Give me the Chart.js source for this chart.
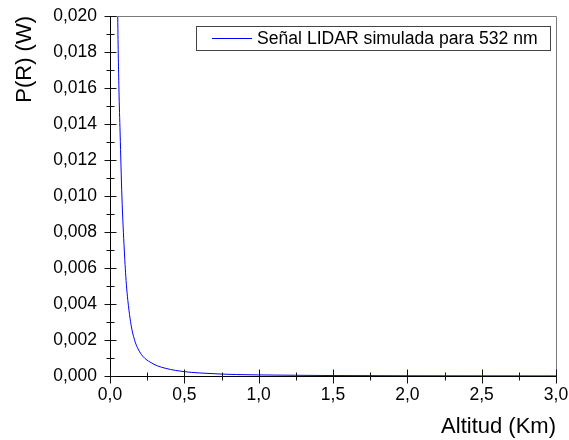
<!DOCTYPE html>
<html>
<head>
<meta charset="utf-8">
<script src="https://cdn.jsdelivr.net/npm/chart.js@4/dist/chart.umd.min.js"></script>
<style>
	body { margin: 0; background: #fff; }
	#lidar { display: block; }
</style>
</head>
<body>
<canvas id="lidar" width="569" height="440"></canvas>
<script>
// Simulated LIDAR return, altitude in km and power in W
const altitud = [0.04, 0.052, 0.060, 0.068, 0.080, 0.096, 0.110, 0.120, 0.135, 0.147, 0.169, 0.189, 0.22, 0.248, 0.27, 0.32, 0.372, 0.44, 0.5, 0.6, 0.74, 0.85, 1.0, 1.25, 1.5, 2.0, 2.5, 3.0];
const potencia = [0.032, 0.0200, 0.0160, 0.0135, 0.0100, 0.0070, 0.0051, 0.0042, 0.0032, 0.0026, 0.0019, 0.0015, 0.00110, 0.00089, 0.00077, 0.00056, 0.00043, 0.00031, 0.00024, 0.00017, 0.00011, 0.00008, 0.00006, 0.00004, 0.000025, 0.000013, 0.000008, 0.000005];

const xTicks = [0, 0.5, 1.0, 1.5, 2.0, 2.5, 3.0];
const yTicks = [0, 0.002, 0.004, 0.006, 0.008, 0.010, 0.012, 0.014, 0.016, 0.018, 0.020];

const serieLabel = 'Señal LIDAR simulada para 532 nm';
const serieColor = 'rgb(0, 0, 255)';
const FONT = '"Liberation Sans", Arial, sans-serif';

Chart.defaults.font.family = FONT;
Chart.defaults.color = '#000';

// minor ticks sit halfway between the major ones
function midpoints(arr) {
	const out = [];
	for (let i = 0; i < arr.length - 1; i++) out.push((arr[i] + arr[i + 1]) / 2);
	return out;
}

// grey frame on top/right plus ticks crossing the left and bottom axes
const axisFrame = {
	id: 'axisFrame',
	afterDatasetsDraw(chart) {
		const { ctx, chartArea: a, scales: { x, y } } = chart;
		ctx.save();
		ctx.lineWidth = 1;
		ctx.strokeStyle = '#7a7a7a';
		ctx.beginPath();
		ctx.moveTo(a.left, Math.round(a.top) + 0.5);
		ctx.lineTo(Math.round(a.right) + 0.5, Math.round(a.top) + 0.5);
		ctx.lineTo(Math.round(a.right) + 0.5, a.bottom);
		ctx.stroke();

		ctx.strokeStyle = '#111';
		ctx.beginPath();
		const lx = Math.round(a.left) + 0.5;
		yTicks.forEach(v => {
			const py = Math.round(y.getPixelForValue(v)) + 0.5;
			ctx.moveTo(lx - 6, py);
			ctx.lineTo(lx + 6, py);
		});
		midpoints(yTicks).forEach(v => {
			const py = Math.round(y.getPixelForValue(v)) + 0.5;
			ctx.moveTo(lx - 4, py);
			ctx.lineTo(lx + 4, py);
		});
		const by = Math.round(a.bottom) + 0.5;
		xTicks.forEach(v => {
			const px = Math.round(x.getPixelForValue(v)) + 0.5;
			ctx.moveTo(px, by - 7);
			ctx.lineTo(px, by + 7);
		});
		midpoints(xTicks).forEach(v => {
			const px = Math.round(x.getPixelForValue(v)) + 0.5;
			ctx.moveTo(px, by - 4);
			ctx.lineTo(px, by + 4);
		});
		ctx.stroke();
		ctx.restore();
	}
};

// boxed legend in the upper right corner of the plot
const legendBox = {
	id: 'legendBox',
	afterDraw(chart) {
		const { ctx, chartArea: a } = chart;
		const ds = chart.data.datasets[0];
		ctx.save();
		ctx.font = '17.6px ' + FONT;
		const tw = ctx.measureText(ds.label).width;
		const h = 24;
		const w = Math.round(tw + 73);
		const right = Math.round(a.right) - 6;
		const top = Math.round(a.top) + 10;
		const left = right - w;
		ctx.fillStyle = '#fff';
		ctx.fillRect(left, top, w, h);
		ctx.strokeStyle = '#444';
		ctx.lineWidth = 1;
		ctx.strokeRect(left + 0.5, top + 0.5, w, h);
		// sample line in the series colour
		const cy = top + 12;
		ctx.fillStyle = serieColor;
		ctx.fillRect(left + 16, cy, 40, 1);
		ctx.fillStyle = '#000';
		ctx.textBaseline = 'middle';
		ctx.fillText(ds.label, left + 61, cy + 1);
		ctx.restore();
	}
};

// keep the plot box where the layout padding puts it
function noLabelOverflow(scale) {
	scale.paddingTop = 0;
	scale.paddingBottom = 0;
	scale.paddingLeft = 0;
	scale.paddingRight = 0;
}

new Chart(document.getElementById('lidar'), {
	type: 'line',
	data: {
		datasets: [{
			label: serieLabel,
			data: altitud.map((r, i) => ({ x: r, y: potencia[i] })),
			borderColor: serieColor,
			borderWidth: 1,
			pointRadius: 0,
			cubicInterpolationMode: 'monotone',
			fill: false
		}]
	},
	options: {
		responsive: false,
		animation: false,
		layout: { padding: { top: 16, right: 13, left: 0, bottom: 0 } },
		plugins: {
			legend: { display: false },
			tooltip: { enabled: false }
		},
		scales: {
			x: {
				type: 'linear',
				min: 0,
				max: 3,
				afterBuildTicks: scale => { scale.ticks = xTicks.map(v => ({ value: v })); },
				afterFit: scale => { scale.height = 64; noLabelOverflow(scale); },
				grid: { display: false, drawTicks: false },
				border: { display: true, color: '#000', width: 1 },
				ticks: {
					autoSkip: false,
					maxRotation: 0,
					padding: 9,
					font: { size: 17.5 },
					callback: v => v.toFixed(1).replace('.', ',')
				},
				title: {
					display: true,
					text: 'Altitud (Km)',
					align: 'end',
					font: { size: 22 },
					padding: { top: 0, bottom: 0 }
				}
			},
			y: {
				type: 'linear',
				min: 0,
				max: 0.02,
				afterBuildTicks: scale => { scale.ticks = yTicks.map(v => ({ value: v })); },
				afterFit: scale => { scale.width = 110; noLabelOverflow(scale); },
				grid: { display: false, drawTicks: false },
				border: { display: true, color: '#000', width: 1 },
				ticks: {
					padding: 13,
					font: { size: 17.5 },
					callback: v => v.toFixed(3).replace('.', ',')
				},
				title: {
					display: true,
					text: 'P(R) (W)',
					align: 'end',
					font: { size: 22 },
					padding: { top: 12, bottom: 4, left: 0, right: 0 }
				}
			}
		}
	},
	plugins: [axisFrame, legendBox]
});
</script>
</body>
</html>
